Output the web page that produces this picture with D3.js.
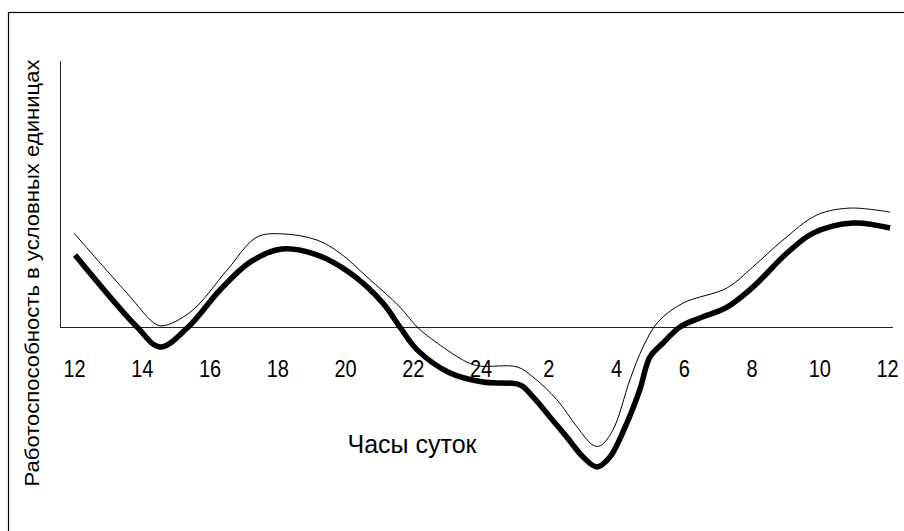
<!DOCTYPE html>
<html><head><meta charset="utf-8">
<script src="https://cdn.jsdelivr.net/npm/d3@7"></script>
<style>html,body{margin:0;padding:0;background:#fff;}svg{display:block;font-family:"Liberation Sans",Arial,sans-serif;}</style>
</head><body>
<script>
// Hour ticks (12 noon to 12 noon next day)
const tickHours = [12,14,16,18,20,22,24,26,28,30,32,34,36];
const tickLabels = ["12","14","16","18","20","22","24","2","4","6","8","10","12"];

// Upper (thin) curve
const thinHours  = [12,13.56,14.45,14.75,15.51,16.52,17.4,18.17,19.17,19.85,20.65,21.62,22.13,22.72,23.6,23.99,25.08,25.55,26.26,26.85,27.32,27.53,27.91,28.41,28.8,29.24,29.98,31.28,32.04,32.93,33.93,34.9,36.09];
const thinValues = [35.3,12.8,0.8,0.8,6.4,21.4,33.8,35.0,32.7,27.8,18.8,7.5,0,-6.0,-13.2,-14.7,-15.0,-18.8,-27.4,-37.6,-44.4,-44.7,-38.7,-19.9,-7.5,1.9,9.0,14.7,22.6,32.7,42.1,44.7,43.2];

// Lower (thick) curve
const thickHours  = [12.03,13.86,14.54,15.37,16.31,17.2,18.14,19.17,20.15,21.12,21.62,22.13,23.1,24.07,25.17,25.55,26.05,26.55,27.03,27.44,27.82,28.32,28.71,29.0,29.39,29.89,30.48,31.28,32.04,33.05,33.82,35.0,36.09];
const thickValues = [27.1,0,-7.5,0,13.9,24.4,29.3,27.1,20.3,9.0,0,-8.6,-17.3,-20.7,-21.8,-26.3,-33.8,-41.4,-48.9,-52.6,-48.9,-36.1,-23.3,-11.3,-6.0,0,3.4,7.5,15.0,27.8,35.3,39.1,37.2];

const yLabel = "Работоспособность в условных единицах";
const xLabel = "Часы суток";

const W = 904, H = 531;
const svg = d3.select("body").append("svg").attr("width", W).attr("height", H);

const x = d3.scaleLinear().domain([12, 36]).range([74, 887]);
const y = d3.scaleLinear().domain([0, 100]).range([327, 61]);

// outer frame (extends beyond the view on right/bottom)
svg.append("rect").attr("x", 8.5).attr("y", 12.5).attr("width", 1000).attr("height", 1000)
  .attr("fill", "none").attr("stroke", "#000").attr("stroke-width", 1.2);

// axes lines
svg.append("line").attr("x1", 60.5).attr("x2", 60.5).attr("y1", y(100)).attr("y2", y(0))
  .attr("stroke", "#222").attr("stroke-width", 1);
svg.append("line").attr("x1", 60).attr("x2", x(36) + 6).attr("y1", y(0) + 0.5).attr("y2", y(0) + 0.5)
  .attr("stroke", "#222").attr("stroke-width", 1);

// tick labels
const axis = d3.axisBottom(x).tickValues(tickHours).tickSize(0)
  .tickFormat((d, i) => tickLabels[i]);
const gAx = svg.append("g").attr("transform", "translate(0,360)").call(axis);
gAx.select(".domain").remove();
gAx.selectAll("text").attr("font-size", 20).attr("fill", "#000").attr("y", 0).attr("dy", 0)
  .attr("transform", "translate(0,17) scale(1,1.17)")
  .attr("font-family", "Liberation Sans, Arial, sans-serif");

const line = d3.line().x(d => x(d[0])).y(d => y(d[1])).curve(d3.curveCatmullRom.alpha(0.5));

svg.append("path").datum(thinHours.map((h, i) => [h, thinValues[i]]))
  .attr("d", line).attr("fill", "none").attr("stroke", "#000").attr("stroke-width", 1);
svg.append("path").datum(thickHours.map((h, i) => [h, thickValues[i]]))
  .attr("d", line).attr("fill", "none").attr("stroke", "#000").attr("stroke-width", 5.5)
  .attr("stroke-linejoin", "round");

// axis titles
svg.append("text").attr("x", 412).attr("y", 453).attr("text-anchor", "middle")
  .attr("font-size", 25).attr("fill", "#000").text(xLabel);
svg.append("text").attr("transform", "translate(39,273) rotate(-90)").attr("text-anchor", "middle")
  .attr("font-size", 20.5).attr("textLength", 427).attr("lengthAdjust", "spacingAndGlyphs")
  .attr("fill", "#000").text(yLabel);
</script>
</body></html>
